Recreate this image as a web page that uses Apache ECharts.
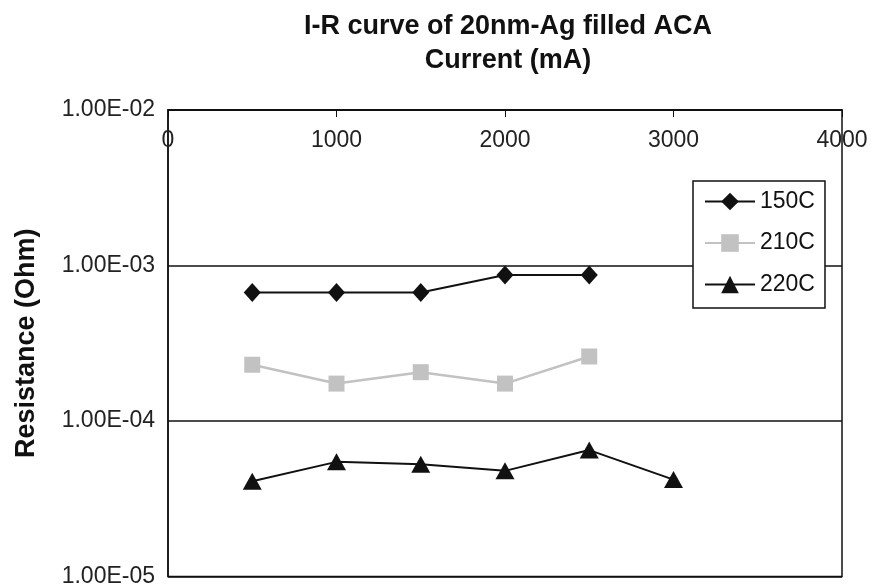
<!DOCTYPE html>
<html>
<head>
<meta charset="utf-8">
<script src="https://cdn.jsdelivr.net/npm/echarts@6/dist/echarts.min.js"></script>
<style>html,body{margin:0;padding:0;background:#fff}#c{width:882px;height:588px}</style>
</head>
<body>
<div id="c"></div>
<script>
var titleText = 'I-R curve of 20nm-Ag filled ACA';
var xName = 'Current (mA)';
var yName = 'Resistance (Ohm)';
var currents = [500, 1000, 1500, 2000, 2500, 3000];
var seriesNames = ['150C', '210C', '220C'];
var r150 = [6.7e-4, 6.7e-4, 6.7e-4, 8.7e-4, 8.7e-4];
var r210 = [2.3e-4, 1.74e-4, 2.06e-4, 1.74e-4, 2.6e-4];
var r220 = [4.1e-5, 5.46e-5, 5.27e-5, 4.78e-5, 6.5e-5, 4.2e-5];

function pairs(ys) { return ys.map(function (v, i) { return [currents[i], v]; }); }
function fmtE(v) {
  var e = Math.round(Math.log10(v));
  var m = v / Math.pow(10, e);
  var s = Math.abs(e) < 10 ? '0' + Math.abs(e) : '' + Math.abs(e);
  return m.toFixed(2) + 'E' + (e < 0 ? '-' : '+') + s;
}
var FF = '"Liberation Sans", Arial, sans-serif';
var chart = echarts.init(document.getElementById('c'), null, {renderer: 'canvas'});
chart.setOption({
  animation: false,
  backgroundColor: '#fff',
  textStyle: {fontFamily: FF},
  title: {
    text: titleText + '\n' + xName,
    left: 503, top: 5, textAlign: 'center',
    textStyle: {fontFamily: FF, fontSize: 27, fontWeight: 'bold', color: '#111', lineHeight: 34}
  },
  grid: {left: 168, top: 110, right: 40, bottom: 10, show: true, borderColor: '#111', borderWidth: 1.5, backgroundColor: 'transparent'},
  legend: {
    orient: 'vertical', left: 693, top: 181,
    backgroundColor: '#fff', borderColor: '#111', borderWidth: 1.5,
    padding: [9, 10, 12, 11], itemGap: 18.5, itemWidth: 50, itemHeight: 22,
    textStyle: {fontFamily: FF, fontSize: 23, color: '#111'},
    data: seriesNames
  },
  xAxis: {
    type: 'value', position: 'top', min: 0, max: 4000, interval: 1000,
    axisLine: {show: true, lineStyle: {color: '#111', width: 1.5}},
    axisTick: {show: true, inside: true, length: 7, lineStyle: {color: '#111'}},
    axisLabel: {inside: true, margin: 19, fontSize: 23, color: '#222', fontFamily: FF,
      formatter: function (v) { return String(v); }},
    splitLine: {show: false}
  },
  yAxis: {
    type: 'log', logBase: 10, min: 1e-5, max: 1e-2,
    name: yName, nameLocation: 'middle', nameGap: 128, nameRotate: 90,
    nameTextStyle: {fontFamily: FF, fontSize: 27, fontWeight: 'bold', color: '#111'},
    axisLine: {show: true, lineStyle: {color: '#111', width: 1.5}},
    axisTick: {show: false},
    axisLabel: {fontSize: 23, color: '#222', margin: 13, fontFamily: FF, formatter: fmtE},
    splitLine: {show: true, lineStyle: {color: '#111', width: 1.5}},
    minorTick: {show: false}
  },
  series: [
    {name: seriesNames[0], type: 'line', data: pairs(r150), symbol: 'diamond', symbolSize: [17, 19],
     itemStyle: {color: '#111'}, lineStyle: {color: '#111', width: 2}, z: 3},
    {name: seriesNames[1], type: 'line', data: pairs(r210), symbol: 'rect', symbolSize: 16,
     itemStyle: {color: '#c2c2c2'}, lineStyle: {color: '#c2c2c2', width: 2.5}, z: 2},
    {name: seriesNames[2], type: 'line', data: pairs(r220), symbol: 'triangle', symbolSize: [19, 17],
     itemStyle: {color: '#111'}, lineStyle: {color: '#111', width: 2}, z: 3}
  ]
});
</script>
</body>
</html>
